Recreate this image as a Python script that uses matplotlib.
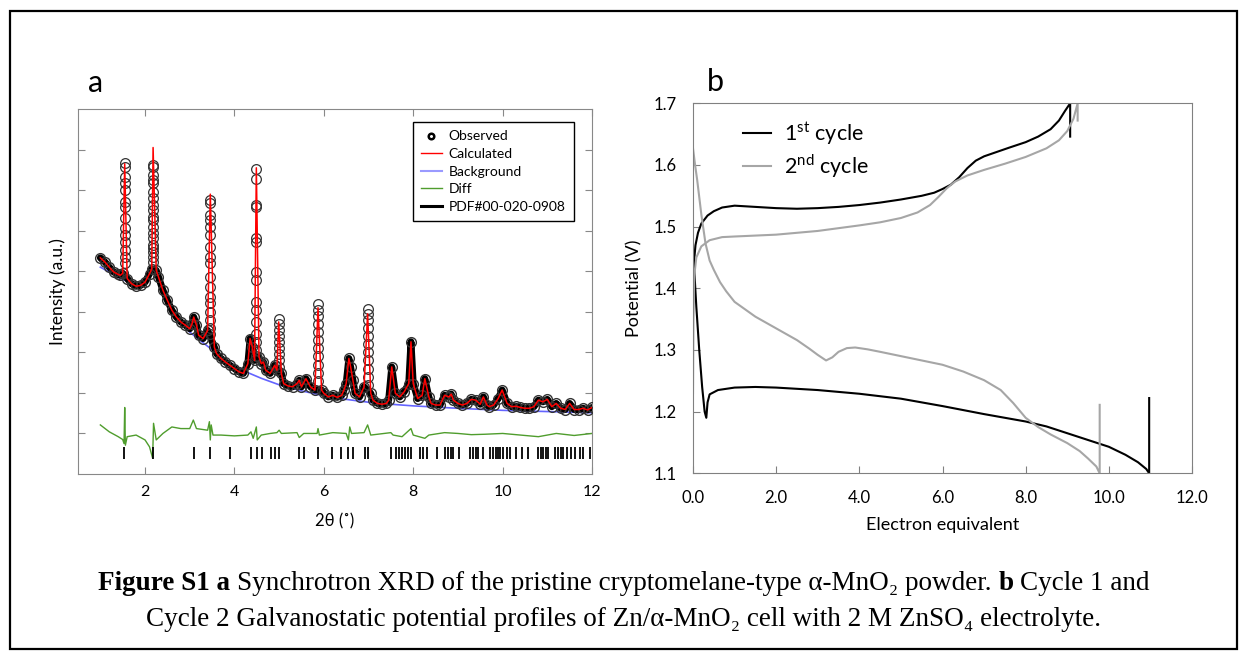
import matplotlib
matplotlib.use('Agg')
import matplotlib.pyplot as plt
import numpy as np
from matplotlib.lines import Line2D
from matplotlib.patches import Rectangle

plt.rcParams['font.family'] = ['Lato', 'DejaVu Sans']
plt.rcParams['mathtext.fontset'] = 'custom'
plt.rcParams['mathtext.rm'] = 'Lato'

# ---- panel a: XRD ----
obs_x = [1.0, 1.1, 1.2, 1.3, 1.4, 1.45, 1.5, 1.6, 1.7, 1.8, 1.9, 2.0, 2.1, 2.15, 2.25, 2.3,
         2.4, 2.5, 2.6, 2.7, 2.8, 2.9, 3.0, 3.05, 3.09, 3.15, 3.2, 3.3, 3.4, 3.55, 3.6, 3.7,
         3.8, 3.9, 4.0, 4.1, 4.2, 4.3, 4.35, 4.4, 4.45, 4.55, 4.6, 4.65, 4.7, 4.8, 4.9, 4.95,
         5.05, 5.1, 5.2, 5.3, 5.4, 5.45, 5.5, 5.6, 5.7, 5.8, 5.95, 6.0, 6.1, 6.2, 6.3, 6.4,
         6.45, 6.5, 6.56, 6.6, 6.65, 6.7, 6.8, 6.9, 7.05, 7.1, 7.2, 7.3, 7.4, 7.45, 7.52, 7.6,
         7.7, 7.8, 7.9, 7.95, 8.0, 8.1, 8.2, 8.26, 8.35, 8.4, 8.5, 8.6, 8.7, 8.8, 8.85, 8.9,
         9.0, 9.1, 9.2, 9.3, 9.4, 9.5, 9.57, 9.65, 9.7, 9.8, 9.9, 9.99, 10.1, 10.2, 10.3, 10.4,
         10.5, 10.6, 10.7, 10.8, 10.9, 11.0, 11.1, 11.2, 11.3, 11.4, 11.5, 11.6, 11.7, 11.8,
         11.9, 12.0]
obs_y = [5.33, 5.23, 5.10, 4.98, 4.92, 4.90, 4.95, 4.82, 4.69, 4.63, 4.65, 4.73, 4.94, 5.06, 5.02, 4.86,
         4.53, 4.28, 4.04, 3.87, 3.75, 3.67, 3.58, 3.70, 3.87, 3.67, 3.42, 3.34, 3.54, 3.13, 2.97, 2.85,
         2.76, 2.68, 2.60, 2.52, 2.48, 2.72, 3.34, 3.13, 2.80, 2.89, 2.72, 2.76, 2.56, 2.48, 2.68, 2.56,
         2.48, 2.23, 2.17, 2.15, 2.23, 2.31, 2.15, 2.35, 2.15, 2.07, 2.07, 1.99, 1.90, 1.94, 1.89, 1.94,
         2.07, 2.23, 2.85, 2.64, 2.31, 1.99, 1.90, 2.15, 1.99, 1.82, 1.74, 1.72, 1.74, 1.82, 2.64, 1.99,
         1.90, 2.03, 2.23, 3.26, 2.23, 1.86, 1.94, 2.35, 1.90, 1.74, 1.70, 1.70, 1.94, 1.90, 1.97, 1.82,
         1.74, 1.70, 1.74, 1.84, 1.82, 1.72, 1.90, 1.70, 1.66, 1.70, 1.86, 2.07, 1.74, 1.66, 1.67, 1.64,
         1.62, 1.62, 1.66, 1.82, 1.78, 1.84, 1.66, 1.74, 1.62, 1.59, 1.74, 1.59, 1.59, 1.62,
         1.58, 1.64]

# sharp peaks: position, calculated top, observed circles along each peak
peak_x = [1.545, 2.18, 3.46, 4.49, 4.99, 5.87, 6.98]
peak_calc = [7.65, 8.05, 6.90, 7.55, 3.75, 4.10, 3.95]
peak_cols = [
    [5.20, 5.35, 5.52, 5.72, 5.89, 6.07, 6.31, 6.58, 6.70, 7.00, 7.18, 7.32, 7.57, 7.67],
    [5.23, 5.35, 5.47, 5.57, 5.65, 5.82, 5.94, 6.09, 6.26, 6.34, 6.51, 6.63, 6.80, 6.95,
     7.17, 7.25, 7.37, 7.57, 7.62],
    [3.45, 3.60, 3.80, 3.99, 4.22, 4.36, 4.61, 4.86, 5.20, 5.35, 5.60, 5.89, 6.09, 6.26,
     6.39, 6.68, 6.76],
    [2.90, 3.05, 3.26, 3.46, 3.75, 4.04, 4.24, 4.78, 4.98, 5.72, 5.82, 6.58, 6.63, 7.27, 7.52],
    [2.65, 2.80, 2.95, 3.10, 3.25, 3.40, 3.55, 3.70, 3.81],
    [2.30, 2.50, 2.70, 2.90, 3.10, 3.30, 3.50, 3.70, 3.90, 4.05, 4.18],
    [2.20, 2.40, 2.60, 2.80, 3.00, 3.20, 3.40, 3.60, 3.80, 3.95, 4.08],
]

bg_x = [1.0, 1.2, 1.4, 1.6, 1.8, 2.0, 2.1, 2.2, 2.3, 2.4, 2.6, 2.8, 3.0, 3.2, 3.4, 3.6,
        3.8, 4.0, 4.3, 4.6, 5.0, 5.5, 6.0, 6.5, 7.0, 7.5, 8.0, 9.0, 10.0, 11.0, 12.0]
bg_y = [5.10, 4.98, 4.85, 4.75, 4.68, 4.75, 4.95, 5.08, 4.85, 4.50, 4.00, 3.70, 3.50, 3.32, 3.15, 2.98,
        2.82, 2.68, 2.50, 2.36, 2.20, 2.05, 1.93, 1.84, 1.77, 1.72, 1.68, 1.62, 1.57, 1.54, 1.51]

diff_x = [1.0, 1.2, 1.4, 1.5, 1.53, 1.545, 1.56, 1.6, 1.8, 2.0, 2.1, 2.17, 2.19, 2.25, 2.4,
          2.6, 2.8, 3.0, 3.08, 3.15, 3.4, 3.44, 3.46, 3.48, 3.52, 3.7, 4.0, 4.3, 4.37, 4.42,
          4.49, 4.51, 4.6, 4.8, 4.95, 5.0, 5.05, 5.4, 5.45, 5.55, 5.85, 5.87, 5.9, 6.2, 6.5,
          6.55, 6.58, 6.62, 6.9, 6.98, 7.05, 7.5, 7.55, 7.75, 7.95, 8.0, 8.26, 8.35, 8.7,
          9.0, 9.3, 9.6, 10.0, 10.4, 10.8, 11.2, 11.6, 12.0]
diff_y = [1.21, 1.04, 0.92, 0.85, 0.75, 1.64, 0.71, 0.92, 0.96, 0.84, 0.67, 0.39, 1.25, 0.84, 1.00,
          1.16, 1.12, 1.12, 1.33, 1.12, 1.08, 1.29, 0.84, 1.21, 0.96, 0.96, 0.94, 0.96, 1.04, 0.88,
          1.16, 0.84, 0.96, 1.00, 1.02, 1.08, 1.00, 1.02, 0.90, 1.00, 1.00, 1.12, 0.96, 1.02, 1.00,
          0.84, 1.16, 1.00, 1.02, 1.21, 0.96, 1.02, 0.96, 0.92, 1.12, 0.96, 0.88, 0.96, 1.02,
          1.00, 0.97, 0.98, 1.00, 0.96, 0.92, 1.00, 0.95, 1.00]

pdf_pos = [1.54, 2.18, 3.09, 3.46, 3.91, 4.37, 4.50, 4.61, 4.82, 4.91, 4.99, 5.45, 5.56, 5.87,
           6.18, 6.38, 6.55, 6.65, 6.92, 6.99, 7.51, 7.62, 7.69, 7.75, 7.82, 7.89, 7.95, 8.16,
           8.22, 8.31, 8.53, 8.71, 8.77, 8.84, 8.90, 9.02, 9.28, 9.34, 9.40, 9.46, 9.57, 9.72,
           9.79, 9.86, 9.90, 9.95, 10.01, 10.10, 10.17, 10.30, 10.43, 10.57, 10.79, 10.85,
           10.90, 10.97, 11.01, 11.17, 11.23, 11.30, 11.36, 11.43, 11.54, 11.63, 11.74, 11.80,
           11.96]

# ---- panel b: galvanostatic profiles ----
c1_dis_x = [0.0, 0.03, 0.08, 0.15, 0.22, 0.28, 0.32, 0.35, 0.4, 0.6, 1.0, 1.5, 2.0, 3.0, 4.0,
            5.0, 6.0, 7.0, 8.0, 8.5, 9.0, 9.5, 10.0, 10.4, 10.7, 10.9, 10.97, 10.97]
c1_dis_y = [1.47, 1.43, 1.37, 1.30, 1.24, 1.20, 1.19, 1.215, 1.228, 1.235, 1.239, 1.240, 1.239,
            1.235, 1.229, 1.221, 1.209, 1.196, 1.184, 1.176, 1.165, 1.154, 1.143, 1.130, 1.118,
            1.107, 1.100, 1.222]
c1_chg_x = [0.0, 0.02, 0.06, 0.12, 0.2, 0.35, 0.5, 0.7, 1.0, 1.5, 2.0, 2.5, 3.0, 3.5, 4.0, 4.5,
            5.0, 5.5, 5.8, 6.0, 6.2, 6.4, 6.6, 6.8, 7.0, 7.3, 7.6, 8.0, 8.3, 8.6, 8.8, 8.95,
            9.07, 9.07]
c1_chg_y = [1.40, 1.44, 1.47, 1.49, 1.505, 1.518, 1.525, 1.531, 1.534, 1.532, 1.530, 1.529, 1.530,
            1.532, 1.535, 1.539, 1.544, 1.550, 1.555, 1.561, 1.568, 1.580, 1.595, 1.607, 1.614,
            1.621, 1.628, 1.637, 1.646, 1.658, 1.672, 1.688, 1.700, 1.646]
c2_dis_x = [0.0, 0.05, 0.1, 0.2, 0.3, 0.4, 0.5, 0.65, 0.8, 1.0, 1.5, 2.0, 2.5, 2.8, 3.0, 3.2,
            3.35, 3.5, 3.7, 3.9, 4.2, 4.5, 5.0, 5.5, 6.0, 6.5, 7.0, 7.4, 7.7, 8.0, 8.3, 8.6,
            9.0, 9.3, 9.5, 9.7, 9.78, 9.78]
c2_dis_y = [1.627, 1.600, 1.576, 1.520, 1.473, 1.445, 1.430, 1.410, 1.395, 1.378, 1.354, 1.335,
            1.316, 1.302, 1.292, 1.283, 1.288, 1.297, 1.303, 1.304, 1.301, 1.297, 1.290, 1.283,
            1.276, 1.265, 1.251, 1.235, 1.214, 1.190, 1.175, 1.163, 1.149, 1.136, 1.124, 1.111,
            1.100, 1.211]
c2_chg_x = [0.0, 0.01, 0.03, 0.08, 0.2, 0.4, 0.7, 1.0, 2.0, 3.0, 4.0, 4.5, 5.0, 5.4, 5.7, 5.9,
            6.1, 6.3, 6.6, 7.0, 7.5, 8.0, 8.5, 8.8, 9.0, 9.15, 9.25, 9.25]
c2_chg_y = [1.23, 1.35, 1.42, 1.45, 1.468, 1.478, 1.483, 1.484, 1.487, 1.493, 1.502, 1.507, 1.514,
            1.523, 1.535, 1.548, 1.562, 1.573, 1.583, 1.592, 1.602, 1.613, 1.627, 1.640, 1.655,
            1.675, 1.700, 1.672]

W, H = 1248, 660
fig = plt.figure(figsize=(W / 100, H / 100), dpi=100)
fig.add_artist(Rectangle((10 / W, 11 / H), 1227 / W, 638 / H, transform=fig.transFigure,
                         fill=False, lw=1.6, ec='black'))

# panel a
ax1 = fig.add_axes([78 / W, 1 - 474 / H, 514 / W, 365 / H])
ax1.plot(bg_x, bg_y, color='#6464ff', lw=1.2, zorder=2)
# dense observed points overlap into a thick band
ax1.plot(obs_x, obs_y, '-', color='black', lw=5, solid_joinstyle='round',
         solid_capstyle='round', zorder=3)
ax1.plot(obs_x, obs_y, 'o', ms=7, mfc='none', mec='#333333', mew=1.0, zorder=3)
for px, col in zip(peak_x, peak_cols):
    ax1.plot([px] * len(col), col, 'o', ms=7, mfc='none', mec='#333333', mew=0.9, zorder=3)
order = np.argsort(obs_x + peak_x)
calc_x = np.array(obs_x + peak_x)[order]
calc_y = np.array(obs_y + peak_calc)[order]
ax1.plot(calc_x, calc_y, color='red', lw=1.1, zorder=4)
ax1.plot(diff_x, diff_y, color='#4f9d2d', lw=1.0, zorder=2)
ax1.vlines(pdf_pos, 0.37, 0.67, color='black', lw=1.3)

ax1.set_xlim(0.5, 12)
ax1.set_ylim(0, 9)
ax1.set_xticks([2, 4, 6, 8, 10, 12])
ax1.set_yticks(range(1, 9))
ax1.set_yticklabels([])
ax1.tick_params(direction='in', top=True, right=True, length=5, color='#888888',
                labelsize=11.5, pad=8)
for s in ax1.spines.values():
    s.set_color('#888888')
ax1.set_xlabel('2θ (˚)', fontsize=12, labelpad=10)
ax1.set_ylabel('Intensity (a.u.)', fontsize=12.5, labelpad=1)

handles = [
    Line2D([], [], ls='none', marker='o', ms=4, mfc='none', mec='black', mew=1.8),
    Line2D([], [], color='red', lw=1),
    Line2D([], [], color='#9a9aff', lw=1.5),
    Line2D([], [], color='#4f9d2d', lw=1),
    Line2D([], [], color='black', lw=2.2),
]
labels = ['Observed', 'Calculated', 'Background', 'Diff', 'PDF#00-020-0908']
leg = ax1.legend(handles, labels, loc='upper right', bbox_to_anchor=(0.965, 0.964),
                 fontsize=10, fancybox=False, framealpha=1, edgecolor='black',
                 handlelength=1.5, handletextpad=0.5, labelspacing=0.4, borderpad=0.6,
                 borderaxespad=0)
leg.get_frame().set_linewidth(1.0)
fig.text(96 / W, 1 - 83 / H, 'a', fontsize=22, ha='center', va='center')

# panel b
ax2 = fig.add_axes([693 / W, 1 - 473.3 / H, 499 / W, 370 / H])
ax2.plot(c1_dis_x, c1_dis_y, color='black', lw=1.5, label='1$^{\\mathregular{st}}$ cycle')
ax2.plot(c1_chg_x, c1_chg_y, color='black', lw=1.5)
ax2.plot(c2_dis_x, c2_dis_y, color='#a6a6a6', lw=1.5, label='2$^{\\mathregular{nd}}$ cycle')
ax2.plot(c2_chg_x, c2_chg_y, color='#a6a6a6', lw=1.5)
ax2.set_xlim(0, 12)
ax2.set_ylim(1.1, 1.7)
ax2.set_xticks(np.arange(0, 12.1, 2))
ax2.set_xticklabels(['%.1f' % v for v in np.arange(0, 12.1, 2)])
ax2.set_yticks(np.arange(1.1, 1.71, 0.1))
ax2.set_yticklabels(['%.1f' % v for v in np.arange(1.1, 1.71, 0.1)])
ax2.tick_params(direction='in', length=5, color='#808080', labelsize=12, pad=12)
for s in ax2.spines.values():
    s.set_color('#808080')
ax2.set_xlabel('Electron equivalent', fontsize=13, labelpad=8)
ax2.set_ylabel('Potential (V)', fontsize=13, labelpad=8)
ax2.legend(loc='upper left', bbox_to_anchor=(0.1, 0.955), frameon=False, fontsize=15.5,
           handlelength=1.3, handletextpad=0.6, labelspacing=0.25, borderpad=0, borderaxespad=0)
fig.text(715 / W, 1 - 82 / H, 'b', fontsize=22, ha='center', va='center')

# caption
serif = ['Liberation Serif', 'DejaVu Serif']
cap_size = 19.5


def caption_line(pieces, yc):
    r = fig.canvas.get_renderer()
    texts = [fig.text(0, yc, s, fontsize=cap_size, fontweight=w, family=serif,
                      ha='left', va='center') for s, w in pieces]
    widths = [t.get_window_extent(r).width for t in texts]
    gap = 0.25 * cap_size * 100 / 72
    total = sum(widths) + gap * (len(widths) - 1)
    x = (W - total) / 2
    for t, wd in zip(texts, widths):
        t.set_x(x / W)
        x += wd + gap


caption_line([('Figure S1 a', 'bold'),
              ('Synchrotron XRD of the pristine cryptomelane-type α-MnO₂ powder.', 'normal'),
              ('b', 'bold'), ('Cycle 1 and', 'normal')], 1 - 584 / H)
caption_line([('Cycle 2 Galvanostatic potential profiles of Zn/α-MnO₂ cell with 2 M ZnSO₄ electrolyte.',
               'normal')], 1 - 620 / H)

fig.savefig('out.png', dpi=100)
